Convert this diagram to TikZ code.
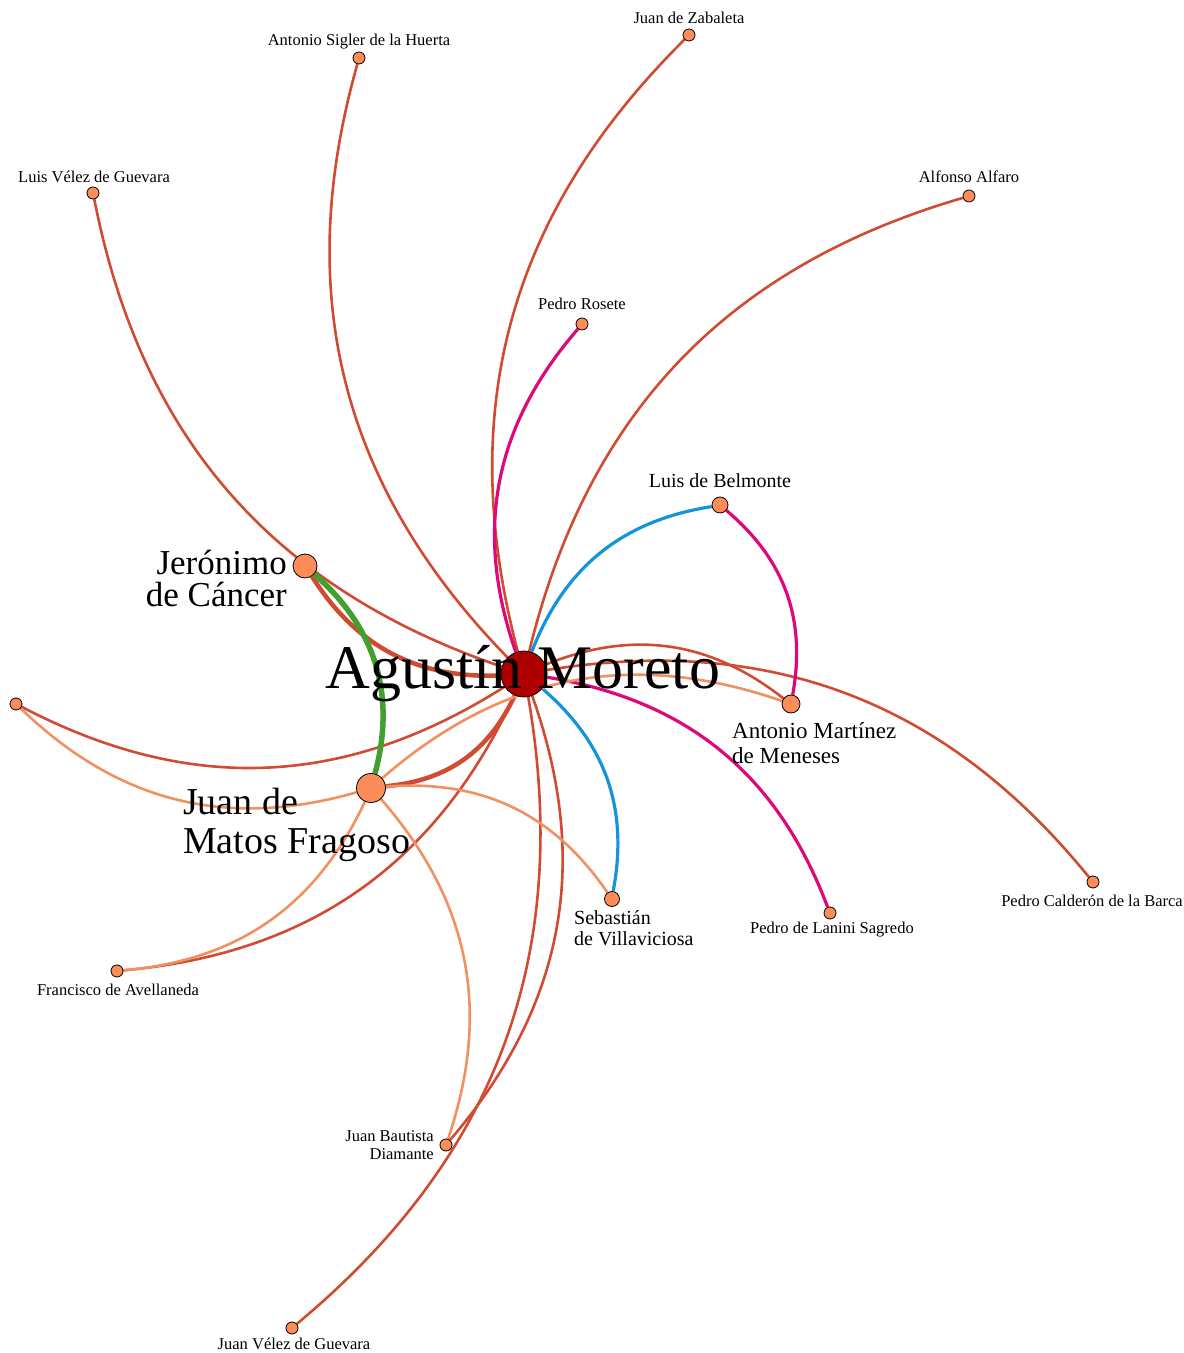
\documentclass[tikz,border=0pt]{standalone}
\usepackage{fontspec}
\setmainfont{Liberation Serif}
\pgfdeclarelayer{background}
\pgfsetlayers{background,main}
\definecolor{moretored}{RGB}{175,0,0}
\definecolor{personfill}{RGB}{252,141,89}
\definecolor{tiered}{RGB}{209,75,50}
\definecolor{tieorange}{RGB}{241,145,98}
\definecolor{tiegreen}{RGB}{67,160,46}
\definecolor{tieblue}{RGB}{20,148,218}
\definecolor{tiemagenta}{RGB}{222,8,122}
\tikzset{>=latex, line width=1.0pt}
\tikzset{
  person/.style={circle,draw=black,fill=personfill,inner sep=0pt,minimum size=12pt,line width=0.8pt},
  tie/.style={draw=tiered,line width=2.6pt},
  tiematos/.style={draw=tieorange,line width=2.6pt},
  tieblue/.style={draw=tieblue,line width=3.2pt},
  tiepink/.style={draw=tiemagenta,line width=3.2pt},
  smalltxt/.style={font=\fontsize{16.5}{18}\selectfont,inner sep=0pt},
  midtxt/.style={font=\fontsize{20}{24}\selectfont,inner sep=0pt},
  bigtxt/.style={inner sep=0pt}
}

\begin{document}
\begin{tikzpicture}[x=1pt,y=1pt]
  \useasboundingbox (0,0) rectangle (1184,1353);

  % Agustin Moreto and the bigger names
  \node[person,fill=moretored,minimum size=46pt] (moreto) at (524,679) {};
  \node[person,minimum size=24pt] (cancer) at (305,787) {};
  \node[person,minimum size=29pt] (matos) at (371,565) {};
  \node[person,minimum size=18pt] (martinez) at (791,649) {};
  \node[person,minimum size=16pt] (belmonte) at (720,848) {};
  \node[person,minimum size=15pt] (villaviciosa) at (612,454) {};

  % the others
  \node[person] (lanini) at (830,440) {};
  \node[person] (calderon) at (1093,471) {};
  \node[person] (alfaro) at (969,1157) {};
  \node[person] (zabaleta) at (689,1318) {};
  \node[person] (sigler) at (359,1295) {};
  \node[person] (velez) at (93,1160) {};
  \node[person] (rosete) at (582,1029) {};
  \node[person] (anon) at (16,649) {};
  \node[person] (avellaneda) at (117,382) {};
  \node[person] (diamante) at (446,208) {};
  \node[person] (juanvelez) at (292,25) {};

  \begin{pgfonlayer}{background}
    % Moreto
    \draw[tie] (moreto) to[bend left=30] (zabaleta);
    \draw[tie] (moreto) to[bend left=30] (sigler);
    \draw[tie] (moreto) to[bend left=30] (velez);
    \draw[tie] (moreto) to[bend left=30] (alfaro);
    \draw[tie] (moreto) to[bend left=30] (calderon);
    \draw[tie] (moreto) to[bend left=30] (martinez);
    \draw[tie] (moreto) to[bend left=30] (diamante);
    \draw[tie] (moreto) to[bend left=30] (juanvelez);
    \draw[tie] (moreto) to[bend left=30] (avellaneda);
    \draw[tie] (moreto) to[bend left=30] (anon);
    \draw[tie,line width=4.5pt] (moreto) to[bend left=30] (matos);
    \draw[tie,line width=4.5pt] (moreto) to[bend left=30] (cancer);
    \draw[tiepink] (moreto) to[bend left=30] (rosete);
    \draw[tiepink] (moreto) to[bend left=30] (lanini);
    \draw[tieblue] (moreto) to[bend left=30] (belmonte);
    \draw[tieblue] (moreto) to[bend left=30] (villaviciosa);
    \draw[tiepink] (belmonte) to[bend left=30] (martinez);

    % Matos Fragoso
    \draw[draw=tiegreen,line width=5.5pt] (cancer) to[bend left=32] (matos);
    \draw[tiematos] (matos) to[bend left=30] (martinez);
    \draw[tiematos] (matos) to[bend left=30] (villaviciosa);
    \draw[tiematos] (matos) to[bend left=30] (diamante);
    \draw[tiematos] (matos) to[bend left=30] (avellaneda);
    \draw[tiematos] (matos) to[bend left=30] (anon);
  \end{pgfonlayer}

  % names
  \node[bigtxt,font=\fontsize{62}{64}\selectfont,anchor=base] (lbl-moreto) at (523,664) {Agustín Moreto};
  \node[bigtxt,font=\fontsize{35}{32}\selectfont,anchor=north east,align=right] (lbl-cancer) at (287,803) {Jerónimo\\de Cáncer};
  \node[bigtxt,font=\fontsize{38}{39}\selectfont,anchor=north west,align=left] (lbl-matos) at (183,565) {Juan de\\Matos Fragoso};
  \node[midtxt,font=\fontsize{23}{25}\selectfont,anchor=north west,align=left] (lbl-martinez) at (732,631) {Antonio Martínez\\de Meneses};
  \node[midtxt,font=\fontsize{20}{21}\selectfont,anchor=north west,align=left] (lbl-villaviciosa) at (574,443) {Sebastián\\de Villaviciosa};
  \node[midtxt,anchor=base] (lbl-belmonte) at (720,865) {Luis de Belmonte};

  \node[smalltxt,anchor=base] (lbl-zabaleta) at (689,1329) {Juan de Zabaleta};
  \node[smalltxt,anchor=base] (lbl-sigler) at (359,1307) {Antonio Sigler de la Huerta};
  \node[smalltxt,anchor=base] (lbl-velez) at (94,1170) {Luis Vélez de Guevara};
  \node[smalltxt,anchor=base] (lbl-alfaro) at (969,1170) {Alfonso Alfaro};
  \node[smalltxt,anchor=base] (lbl-rosete) at (582,1043) {Pedro Rosete};
  \node[smalltxt,anchor=base] (lbl-lanini) at (832,419) {Pedro de Lanini Sagredo};
  \node[smalltxt,anchor=base] (lbl-calderon) at (1092,446) {Pedro Calderón de la Barca};
  \node[smalltxt,anchor=base] (lbl-avellaneda) at (118,357) {Francisco de Avellaneda};
  \node[smalltxt,anchor=base] (lbl-juanvelez) at (294,4) {Juan Vélez de Guevara};
  \node[smalltxt,anchor=north east,align=right] (lbl-diamante) at (434,223) {Juan Bautista\\Diamante};
\end{tikzpicture}
\end{document}
